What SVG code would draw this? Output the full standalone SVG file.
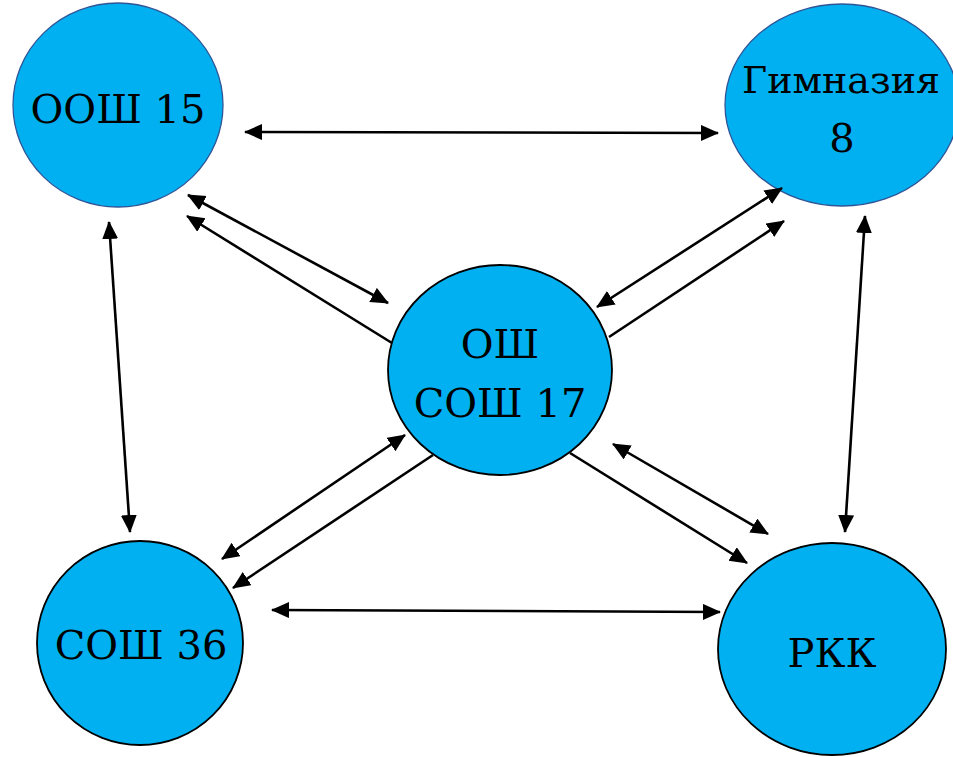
<svg xmlns="http://www.w3.org/2000/svg" width="953" height="757" viewBox="0 0 953 757">
<defs>
<marker id="ah" markerWidth="18" markerHeight="18" refX="17" refY="8" orient="auto-start-reverse" markerUnits="userSpaceOnUse">
<path d="M0,0 L18,8 L0,16 Z" fill="#000"/>
</marker>
</defs>
<style>
.node{fill:#00b0f0;}
.sb{stroke:#2f5597;stroke-width:1.3;}
.sk{stroke:#000;stroke-width:1.8;}
.lbl{font-family:"DejaVu Serif",serif;font-size:40px;fill:#000;text-anchor:middle;}
.c line{stroke:#000;stroke-width:2.6;fill:none;}
.d{marker-start:url(#ah);marker-end:url(#ah);}
.s{marker-end:url(#ah);}
</style>
<rect width="953" height="757" fill="#fff"/>
<g id="n-oosh15">
<ellipse class="node sb" cx="118" cy="105" rx="105" ry="102"/>
<text class="lbl" x="118" y="123">ООШ 15</text>
</g>
<g id="n-gymn8">
<ellipse class="node sb" cx="842" cy="105" rx="117" ry="101"/>
<text class="lbl" x="841" y="93" style="font-size:38px">Гимназия</text>
<text class="lbl" x="842" y="152">8</text>
</g>
<g id="n-osh17">
<ellipse class="node sk" cx="500" cy="370" rx="112" ry="105"/>
<text class="lbl" x="500" y="358">ОШ</text>
<text class="lbl" x="500" y="417">СОШ 17</text>
</g>
<g id="n-sosh36">
<ellipse class="node sk" cx="140" cy="643" rx="103" ry="102"/>
<text class="lbl" x="141" y="659">СОШ 36</text>
</g>
<g id="n-rkk">
<ellipse class="node sk" cx="832" cy="649" rx="114" ry="106"/>
<text class="lbl" x="832" y="667">РКК</text>
</g>
<g id="connectors" class="c">
<line class="d" x1="245" y1="132" x2="718" y2="133"/>
<line class="d" x1="109" y1="222" x2="130" y2="532"/>
<line class="d" x1="865" y1="216" x2="845" y2="532"/>
<line class="d" x1="272" y1="610" x2="720" y2="612"/>
<line class="d" x1="188" y1="195" x2="388" y2="303"/>
<line class="s" x1="392" y1="343" x2="187" y2="216"/>
<line class="d" x1="782" y1="188" x2="597" y2="307"/>
<line class="s" x1="609" y1="337" x2="784" y2="221"/>
<line class="d" x1="405" y1="435" x2="222" y2="559"/>
<line class="s" x1="433" y1="455" x2="233" y2="588"/>
<line class="d" x1="613" y1="444" x2="768" y2="534"/>
<line class="s" x1="570" y1="453" x2="747" y2="563"/>
</g>
</svg>
